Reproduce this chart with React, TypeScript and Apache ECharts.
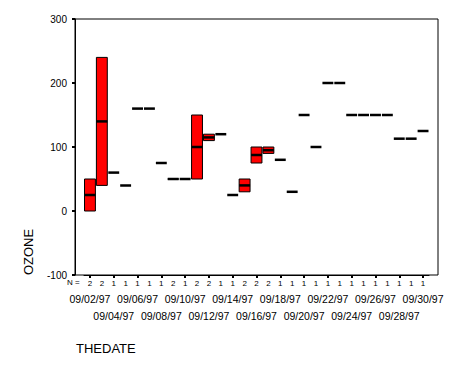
import React, { useEffect, useRef } from "react";
import * as echarts from "echarts";

const dates = [
  "09/02/97", "09/03/97", "09/04/97", "09/05/97", "09/06/97", "09/07/97", "09/08/97",
  "09/09/97", "09/10/97", "09/11/97", "09/12/97", "09/13/97", "09/14/97", "09/15/97",
  "09/16/97", "09/17/97", "09/18/97", "09/19/97", "09/20/97", "09/21/97", "09/22/97",
  "09/23/97", "09/24/97", "09/25/97", "09/26/97", "09/27/97", "09/28/97", "09/29/97",
  "09/30/97",
];
const nValues = [2, 2, 1, 1, 1, 1, 1, 2, 1, 2, 2, 1, 1, 2, 2, 2, 1, 1, 1, 1, 1, 1, 1, 1, 1, 1, 1, 1, 1];
const minOzone = [0, 40, 60, 40, 160, 160, 75, 50, 50, 50, 110, 120, 25, 30, 75, 90, 80, 30, 150, 100, 200, 200, 150, 150, 150, 150, 113, 113, 125];
const maxOzone = [50, 240, 60, 40, 160, 160, 75, 50, 50, 150, 120, 120, 25, 50, 100, 100, 80, 30, 150, 100, 200, 200, 150, 150, 150, 150, 113, 113, 125];
const medianOzone = [25, 140, 60, 40, 160, 160, 75, 50, 50, 100, 115, 120, 25, 40, 87.5, 95, 80, 30, 150, 100, 200, 200, 150, 150, 150, 150, 113, 113, 125];
const yTicks = { min: -100, max: 300, interval: 100 };

const FONT = 'Arial, "Liberation Sans", sans-serif';

export default function App() {
  const ref = useRef<HTMLDivElement>(null);
  useEffect(() => {
    if (!ref.current) return;
    const chart = echarts.init(ref.current, undefined, { renderer: "svg" });
    const data = dates.map((d, i) => [i, minOzone[i], maxOzone[i], medianOzone[i], nValues[i]]);
    chart.setOption({
      animation: false,
      backgroundColor: "#ffffff",
      textStyle: { fontFamily: FONT },
      grid: [
        { left: 75, top: 19, width: 363, height: 256, show: true, borderColor: "#000", borderWidth: 1, backgroundColor: "transparent" },
        { left: 84, top: 19, width: 345, height: 256 },
      ],
      xAxis: [
        { type: "value", gridIndex: 0, show: false, min: 0, max: 1 },
        {
          type: "category",
          gridIndex: 1,
          data: dates,
          position: "bottom",
          axisLine: { show: true, onZero: false, lineStyle: { color: "#000", width: 1 } },
          axisTick: { show: true, alignWithLabel: true, interval: 1, length: 3, lineStyle: { color: "#000", width: 2 } },
          axisLabel: {
            interval: 0,
            hideOverlap: false,
            margin: 0,
            color: "#000",
            formatter: (value: string, index: number) =>
              `{n|${nValues[index]}}\n{d|${index % 4 === 0 ? value : " "}}\n{d|${index % 4 === 2 ? value : " "}}`,
            rich: {
              n: { fontSize: 8, lineHeight: 16, color: "#000", fontFamily: FONT },
              d: { fontSize: 10.5, lineHeight: 16.5, color: "#000", fontFamily: FONT },
            },
          },
          splitLine: { show: false },
        },
      ],
      yAxis: [
        {
          type: "value",
          gridIndex: 0,
          min: yTicks.min,
          max: yTicks.max,
          interval: yTicks.interval,
          axisLine: { show: true, onZero: false, lineStyle: { color: "#000", width: 1 } },
          axisTick: { show: true, length: 3, lineStyle: { color: "#000", width: 2 } },
          axisLabel: { color: "#000", fontSize: 10, margin: 8, fontFamily: FONT },
          splitLine: { show: false },
        },
        { type: "value", gridIndex: 1, min: yTicks.min, max: yTicks.max, interval: yTicks.interval, show: false },
      ],
      graphic: [
        { type: "text", left: 67, top: 278, style: { text: "N =", fontSize: 8, fill: "#000", fontFamily: FONT } },
        {
          type: "text",
          x: 28,
          y: 252,
          rotation: Math.PI / 2,
          style: { text: "OZONE", fontSize: 13, fill: "#000", fontFamily: FONT, align: "center", verticalAlign: "middle" },
        },
        { type: "text", left: 76, top: 342, style: { text: "THEDATE", fontSize: 13, fill: "#000", fontFamily: FONT } },
      ],
      series: [
        {
          type: "custom",
          name: "OZONE",
          xAxisIndex: 1,
          yAxisIndex: 1,
          data,
          encode: { x: 0, y: [1, 2, 3] },
          renderItem: (params: any, api: any) => {
            const i = api.value(0);
            const lo = api.coord([i, api.value(1)]);
            const hi = api.coord([i, api.value(2)]);
            const med = api.coord([i, api.value(3)]);
            const n = api.value(4);
            const band = api.size([1, 0])[0];
            const w = band - 1;
            const x0 = lo[0] - w / 2;
            const children: any[] = [];
            if (n >= 2) {
              children.push({
                type: "rect",
                shape: { x: x0, y: hi[1], width: w, height: lo[1] - hi[1] },
                style: { fill: "#ff0000", stroke: "#000", lineWidth: 1 },
              });
            }
            children.push({
              type: "rect",
              shape: { x: x0, y: med[1] - 1.25, width: w, height: 2.5 },
              style: { fill: "#000" },
            });
            return { type: "group", children };
          },
        },
      ],
    });
    return () => chart.dispose();
  }, []);
  return <div ref={ref} style={{ position: "fixed", left: 0, top: 0, width: 456, height: 365 }} />;
}
